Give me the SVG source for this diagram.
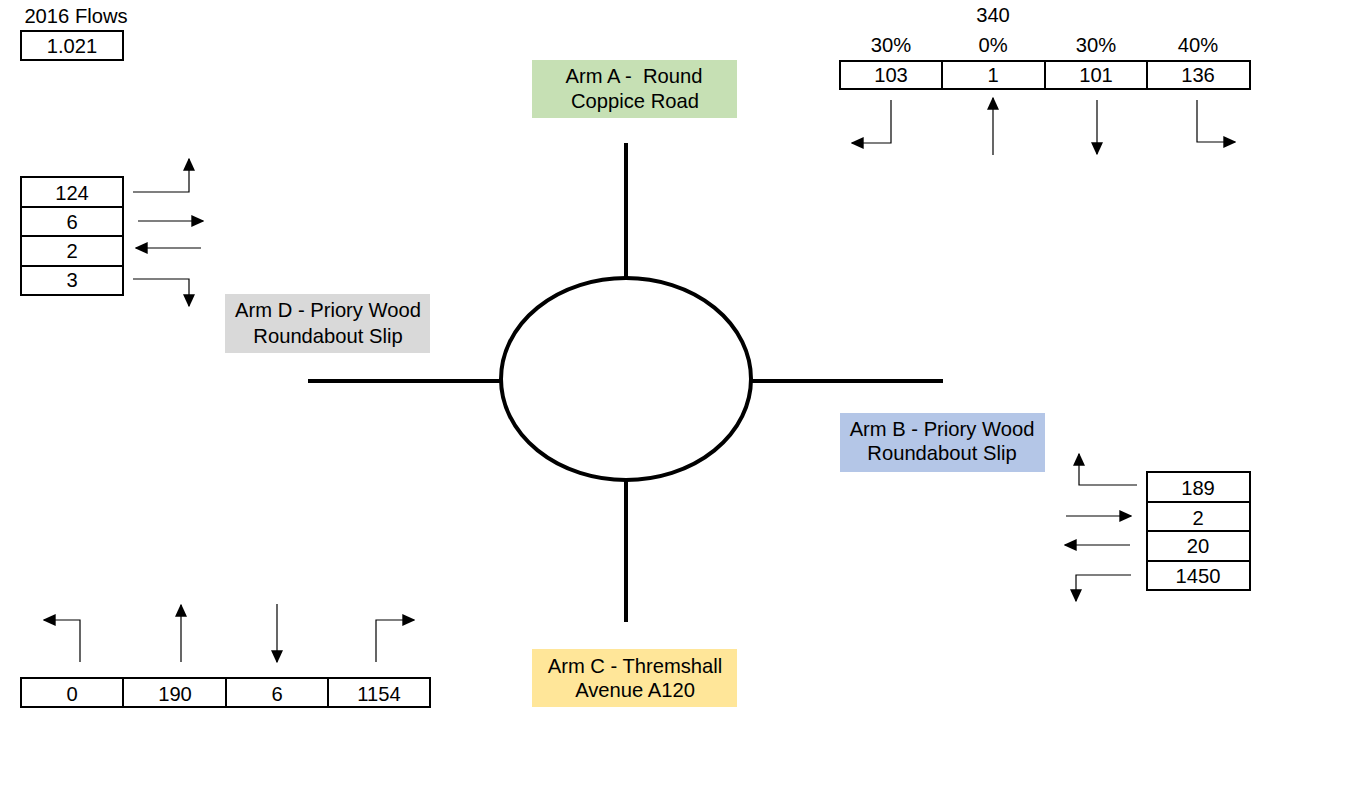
<svg xmlns="http://www.w3.org/2000/svg" width="1357" height="797" viewBox="0 0 1357 797">
  <style>
    text { font-family: "Liberation Sans", Arial, sans-serif; font-size: 20.2px; fill: #000; text-anchor: middle; }
    .cell { fill: #fff; stroke: #000; stroke-width: 2; }
    .arm { stroke: #000; stroke-width: 4; fill: none; }
    .flow { stroke: #000; stroke-width: 1.2; fill: none; marker-end: url(#head); }
  </style>
  <defs>
    <marker id="head" viewBox="0 0 10 10" preserveAspectRatio="none" refX="9" refY="5" markerWidth="13" markerHeight="12" markerUnits="userSpaceOnUse" orient="auto">
      <path d="M0,0 L10,5 L0,10 Z" fill="#000"/>
    </marker>
  </defs>

  <rect width="1357" height="797" fill="#fff"/>

  <!-- growth factor -->
  <g id="factor">
    <text x="76" y="23">2016 Flows</text>
    <rect class="cell" x="21" y="31" width="102" height="29"/>
    <text x="72" y="53">1.021</text>
  </g>

  <!-- roundabout with four arms -->
  <g id="roundabout">
    <line class="arm" x1="626" y1="143" x2="626" y2="278"/>
    <line class="arm" x1="626" y1="480" x2="626" y2="622"/>
    <line class="arm" x1="308" y1="381" x2="501" y2="381"/>
    <line class="arm" x1="751" y1="381" x2="943" y2="381"/>
    <ellipse class="arm" cx="626" cy="379" rx="125" ry="101" fill="#fff"/>
  </g>

  <!-- arm labels -->
  <g id="label-a">
    <rect x="532" y="60" width="205" height="58" fill="#C6E0B4"/>
    <text x="634" y="83" xml:space="preserve">Arm A -  Round</text>
    <text x="635" y="108">Coppice Road</text>
  </g>
  <g id="label-b">
    <rect x="840" y="413" width="205" height="59" fill="#B4C6E7"/>
    <text x="942" y="436">Arm B - Priory Wood</text>
    <text x="942" y="460">Roundabout Slip</text>
  </g>
  <g id="label-c">
    <rect x="532" y="649" width="205" height="58" fill="#FFE699"/>
    <text x="635" y="673">Arm C - Thremshall</text>
    <text x="635" y="697">Avenue A120</text>
  </g>
  <g id="label-d">
    <rect x="225" y="294" width="205" height="59" fill="#D9D9D9"/>
    <text x="328" y="317">Arm D - Priory Wood</text>
    <text x="328" y="343">Roundabout Slip</text>
  </g>

  <!-- Arm A flow table -->
  <g id="table-a">
    <text x="993" y="22">340</text>
    <text x="891" y="52">30%</text>
    <text x="993" y="52">0%</text>
    <text x="1096" y="52">30%</text>
    <text x="1198" y="52">40%</text>
    <rect class="cell" x="840" y="61" width="410" height="28"/>
    <line x1="942" y1="61" x2="942" y2="89" stroke="#000" stroke-width="2"/>
    <line x1="1045" y1="61" x2="1045" y2="89" stroke="#000" stroke-width="2"/>
    <line x1="1147" y1="61" x2="1147" y2="89" stroke="#000" stroke-width="2"/>
    <text x="891" y="82">103</text>
    <text x="993" y="82">1</text>
    <text x="1096" y="82">101</text>
    <text x="1198" y="82">136</text>
  </g>

  <!-- Arm D flow table -->
  <g id="table-d">
    <rect class="cell" x="21" y="177" width="102" height="118"/>
    <line x1="21" y1="207" x2="123" y2="207" stroke="#000" stroke-width="2"/>
    <line x1="21" y1="236" x2="123" y2="236" stroke="#000" stroke-width="2"/>
    <line x1="21" y1="266" x2="123" y2="266" stroke="#000" stroke-width="2"/>
    <text x="72" y="200">124</text>
    <text x="72" y="229">6</text>
    <text x="72" y="258">2</text>
    <text x="72" y="287">3</text>
  </g>

  <!-- Arm B flow table -->
  <g id="table-b">
    <rect class="cell" x="1147" y="472" width="103" height="118"/>
    <line x1="1147" y1="502" x2="1250" y2="502" stroke="#000" stroke-width="2"/>
    <line x1="1147" y1="531" x2="1250" y2="531" stroke="#000" stroke-width="2"/>
    <line x1="1147" y1="561" x2="1250" y2="561" stroke="#000" stroke-width="2"/>
    <text x="1198" y="495">189</text>
    <text x="1198" y="525">2</text>
    <text x="1198" y="553">20</text>
    <text x="1198" y="583">1450</text>
  </g>

  <!-- Arm C flow table -->
  <g id="table-c">
    <rect class="cell" x="21" y="678" width="409" height="29"/>
    <line x1="123" y1="678" x2="123" y2="707" stroke="#000" stroke-width="2"/>
    <line x1="226" y1="678" x2="226" y2="707" stroke="#000" stroke-width="2"/>
    <line x1="328" y1="678" x2="328" y2="707" stroke="#000" stroke-width="2"/>
    <text x="72" y="701">0</text>
    <text x="175" y="701">190</text>
    <text x="277" y="701">6</text>
    <text x="379" y="701">1154</text>
  </g>

  <!-- turning movement arrows -->
  <g id="connectors">
    <!-- Arm A -->
    <path class="flow" d="M891,100 V143 H852"/>
    <path class="flow" d="M993,155 V98"/>
    <path class="flow" d="M1097,100 V154"/>
    <path class="flow" d="M1197,100 V142 H1235"/>
    <!-- Arm D -->
    <path class="flow" d="M133,192 H189 V159"/>
    <path class="flow" d="M138,221 H203"/>
    <path class="flow" d="M201,248 H136"/>
    <path class="flow" d="M133,279 H189 V306"/>
    <!-- Arm B -->
    <path class="flow" d="M1137,485 H1079 V454"/>
    <path class="flow" d="M1066,516 H1131"/>
    <path class="flow" d="M1130,545 H1065"/>
    <path class="flow" d="M1131,575 H1076 V601"/>
    <!-- Arm C -->
    <path class="flow" d="M80,662 V620 H44"/>
    <path class="flow" d="M181,662 V605"/>
    <path class="flow" d="M277,604 V662"/>
    <path class="flow" d="M376,662 V620 H414"/>
  </g>
</svg>
